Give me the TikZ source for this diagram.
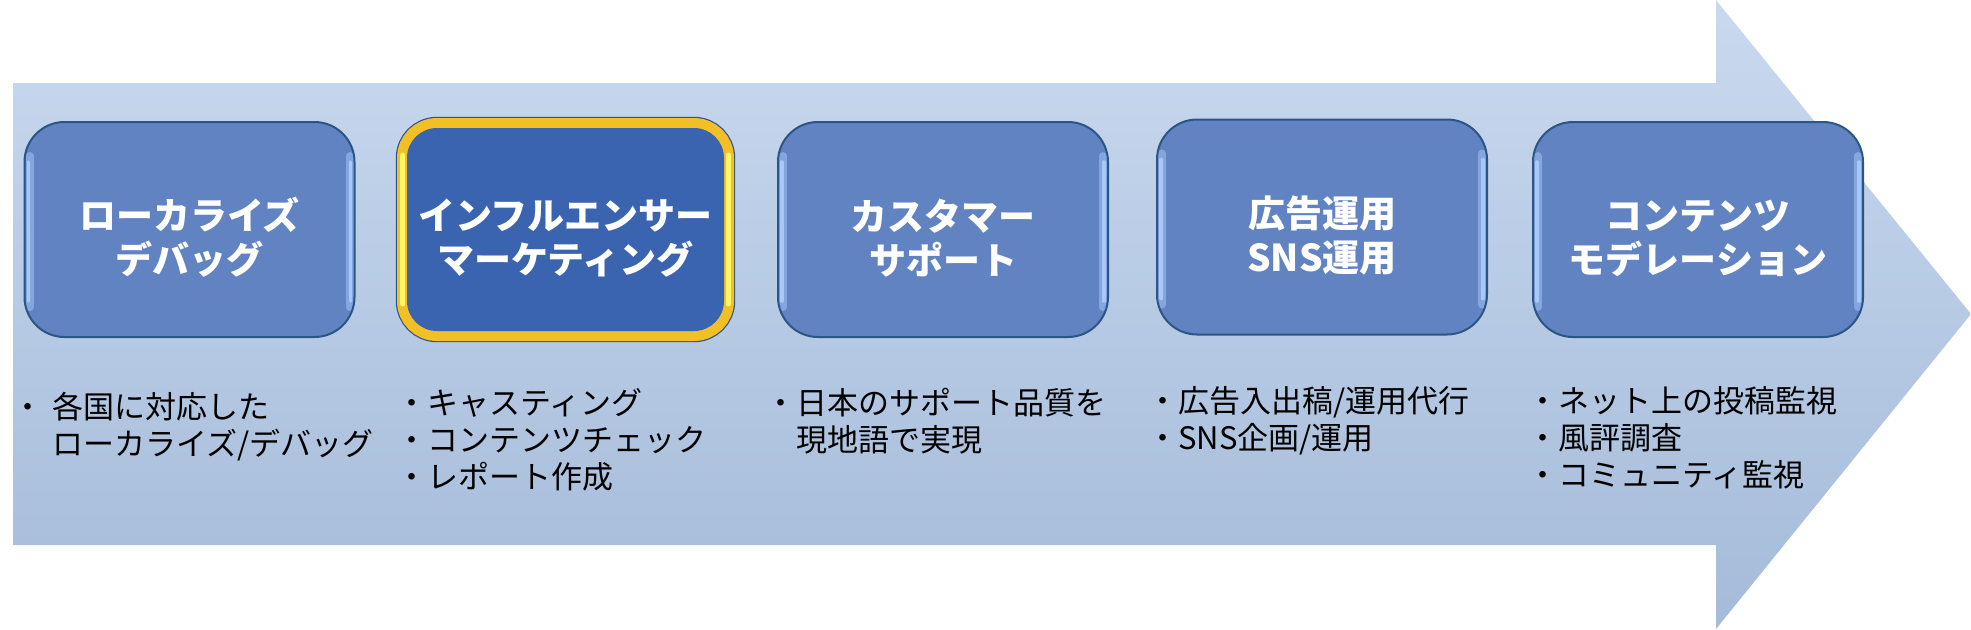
\documentclass[tikz,border=0pt]{standalone}
\usepackage{fontspec}
\newfontfamily\jp{Noto Sans CJK JP}
\definecolor{arrowtop}{HTML}{C9D9EF}
\definecolor{arrowbot}{HTML}{A5BBD9}
\definecolor{boxfill}{HTML}{6283C1}
\definecolor{boxline}{HTML}{2B5586}
\definecolor{bevel}{HTML}{A8C8FB}
\definecolor{focusfill}{HTML}{3A63B0}
\definecolor{gold}{HTML}{F2BF26}
\definecolor{goldhi}{HTML}{FFF666}
\newcommand\lift{\rule{0pt}{24pt}}
\tikzset{
  shine/.style={line cap=round},
  stage/.style={rectangle, rounded corners=20pt, draw=boxline, line width=1pt, fill=boxfill,
    minimum width=165pt, minimum height=107.5pt, text=white, align=center,
    font=\jp\bfseries\fontsize{18.5}{22}\selectfont,
    path picture={
      \draw[shine, bevel!50!boxfill, line width=4pt]
        ([xshift=2.5pt, yshift=-17pt]path picture bounding box.north west) -- ([xshift=2.5pt, yshift=15pt]path picture bounding box.south west);
      \draw[shine, bevel, line width=1.8pt]
        ([xshift=2pt, yshift=-20pt]path picture bounding box.north west) -- ([xshift=2pt, yshift=18pt]path picture bounding box.south west);
      \draw[shine, bevel!50!boxfill, line width=4pt]
        ([xshift=-2.5pt, yshift=-17pt]path picture bounding box.north east) -- ([xshift=-2.5pt, yshift=15pt]path picture bounding box.south east);
      \draw[shine, bevel, line width=1.8pt]
        ([xshift=-2pt, yshift=-20pt]path picture bounding box.north east) -- ([xshift=-2pt, yshift=18pt]path picture bounding box.south east);
    }},
  focus/.style={stage, path picture={}, draw=none, fill=focusfill, rounded corners=15pt,
    minimum width=158.5pt, minimum height=101.5pt,
    preaction={draw=boxline, line width=11.2pt},
    preaction={draw=gold, line width=10pt}},
  duty/.style={anchor=north west, inner sep=0pt, align=left, text=black,
    font=\jp\fontsize{15.5}{18.5}\selectfont}
}
\begin{document}
\begin{tikzpicture}[x=0.5pt, y=-0.5pt]
  \useasboundingbox (0,0) rectangle (1971,629);
  % Big arrow
  \shade[top color=arrowtop, bottom color=arrowbot]
    (13,83) -- (1716,83) -- (1716,0) -- (1971,314) -- (1716,629) -- (1716,545) -- (13,545) -- cycle;

  % Stages
  \node[stage] (loc) at (189.5,229.5) {\lift ローカライズ\\デバッグ};
  \node[focus] (inf) at (565.5,229.5) {\lift インフルエンサー\\マーケティング};
  \node[stage] (cs)  at (943,229.5)   {\lift カスタマー\\サポート};
  \node[stage] (ad)  at (1322,227)    {\lift 広告運用\\SNS運用};
  \node[stage] (mod) at (1698,229.5)  {\lift コンテンツ\\モデレーション};

  % Highlight on the gold frame
  \draw[shine, goldhi, line width=2.4pt]
    ([xshift=-1.6pt, yshift=-14pt]inf.north west) -- ([xshift=-1.6pt, yshift=14pt]inf.south west);
  \draw[shine, goldhi, line width=2.4pt]
    ([xshift=1.6pt, yshift=-14pt]inf.north east) -- ([xshift=1.6pt, yshift=14pt]inf.south east);

  % Duties
  \node[duty] (locT) at (12,392)   {・\hspace{4.5pt}各国に対応した\\\hphantom{・}\hspace{4.5pt}ローカライズ/デバッグ};
  \node[duty] (infT) at (396,388)  {・キャスティング\\・コンテンツチェック\\・レポート作成};
  \node[duty] (csT)  at (765,388)  {・日本のサポート品質を\\\hphantom{・}現地語で実現};
  \node[duty] (adT)  at (1147,386) {・広告入出稿/運用代行\\・SNS企画/運用};
  \node[duty] (modT) at (1527,386) {・ネット上の投稿監視\\・風評調査\\・コミュニティ監視};
\end{tikzpicture}
\end{document}
